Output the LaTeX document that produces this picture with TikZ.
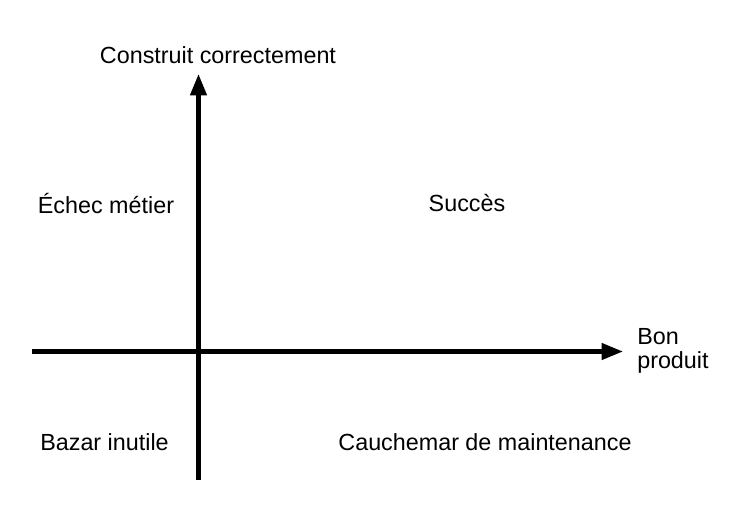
\documentclass[tikz,border=0pt]{standalone}
\usepackage{fontspec}
\setmainfont{Liberation Sans}
\usetikzlibrary{arrows.meta}
\tikzset{axis/.style={line width=3.2pt,-{Triangle[length=16pt,width=12pt]}},
  quad/.style={font=\fontsize{17.5}{18}\selectfont}}
\begin{document}
\begin{tikzpicture}[x=0.75pt,y=-0.75pt]
\useasboundingbox (0,0) rectangle (731,510);
\coordinate (ybot) at (198.5,480);
\coordinate (ytop) at (198.5,74);
\coordinate (xleft) at (32,351.5);
\coordinate (xright) at (623,351.5);
\draw[axis] (ybot) -- (ytop);
\draw[axis] (xleft) -- (xright);
\node[quad] (ylab) at (218,55) {Construit correctement};
\node[quad,align=left,anchor=west,inner sep=0pt] (xlab) at (637,351) {Bon\\produit};
\node[quad] (echec) at (106,203) {Échec métier};
\node[quad] (succes) at (467,203) {Succès};
\node[quad] (bazar) at (104.5,442) {Bazar inutile};
\node[quad] (cauchemar) at (485,442) {Cauchemar de maintenance};
\end{tikzpicture}
\end{document}
